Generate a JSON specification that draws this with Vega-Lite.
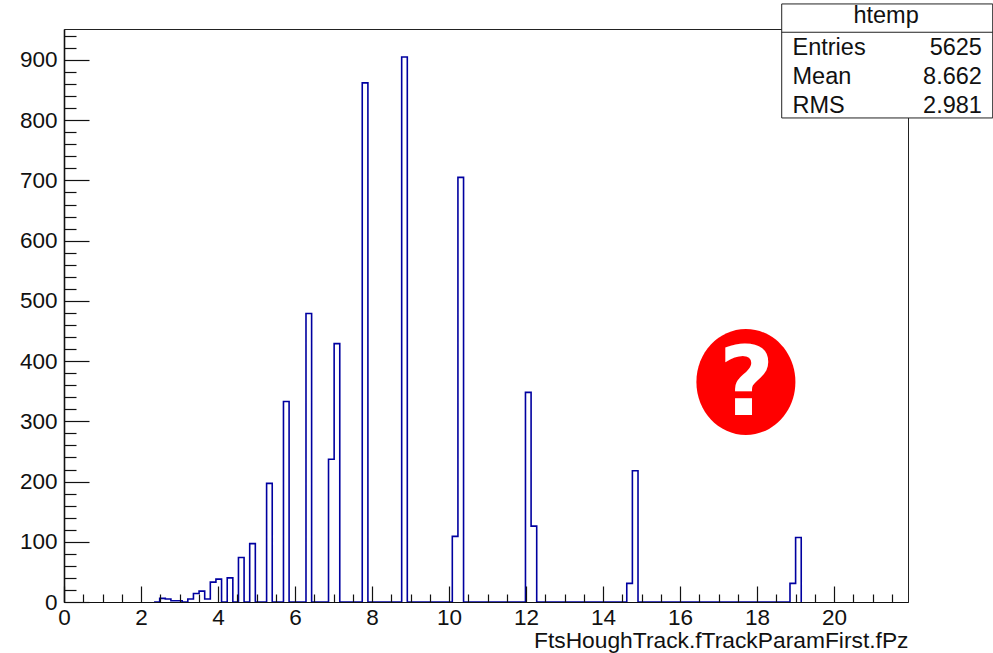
{
"$schema":"https://vega.github.io/schema/vega-lite/v6.json",
"width":844,"height":573,
"autosize":{"type":"none"},
"padding":{"left":64,"top":29,"right":85,"bottom":51},
"background":"white",
"config":{"view":{"stroke":"#222","strokeWidth":1},"font":"Liberation Sans"},
"layer":[
{"data":{"values":[
{"x":2.339,"n":0},{"x":2.485,"n":6},{"x":2.631,"n":5},{"x":2.777,"n":2},{"x":2.923,"n":2},{"x":3.069,"n":0},{"x":3.216,"n":5},{"x":3.362,"n":14},{"x":3.508,"n":18},{"x":3.654,"n":5},{"x":3.8,"n":33},{"x":3.946,"n":38},{"x":4.092,"n":0},{"x":4.239,"n":40},{"x":4.385,"n":0},{"x":4.531,"n":74},{"x":4.677,"n":0},{"x":4.823,"n":97},{"x":4.969,"n":0},{"x":5.262,"n":197},{"x":5.408,"n":0},{"x":5.7,"n":333},{"x":5.846,"n":0},{"x":6.285,"n":479},{"x":6.431,"n":0},{"x":6.87,"n":237},{"x":7.016,"n":429},{"x":7.162,"n":0},{"x":7.746,"n":862},{"x":7.893,"n":0},{"x":8.77,"n":905},{"x":8.916,"n":0},{"x":10.085,"n":109},{"x":10.231,"n":705},{"x":10.377,"n":0},{"x":11.985,"n":348},{"x":12.131,"n":126},{"x":12.277,"n":0},{"x":14.616,"n":31},{"x":14.762,"n":218},{"x":14.908,"n":0},{"x":18.855,"n":31},{"x":19.001,"n":107},{"x":19.147,"n":0}
]},
"mark":{"type":"line","interpolate":"step-after","color":"#0000a0","strokeWidth":1.6},
"encoding":{
"x":{"field":"x","type":"quantitative","scale":{"domain":[0,21.92],"nice":false,"zero":false},
"axis":{"tickCount":200,"values":[0,0.5,1,1.5,2,2.5,3,3.5,4,4.5,5,5.5,6,6.5,7,7.5,8,8.5,9,9.5,10,10.5,11,11.5,12,12.5,13,13.5,14,14.5,15,15.5,16,16.5,17,17.5,18,18.5,19,19.5,20,20.5,21,21.5],
"labelExpr":"datum.value % 2 === 0 ? format(datum.value, 'd') : ''","labelOverlap":false,"labelFontSize":22.5,"labelColor":"#111","labelPadding":20,"labelFlush":false,
"tickSize":{"condition":{"test":"datum.value % 2 === 0","value":-16},"value":-8},"tickColor":"#111","tickWidth":1.2,
"domainColor":"#111","domainWidth":1.2,"grid":false,"zindex":1,
"title":"FtsHoughTrack.fTrackParamFirst.fPz","titleFontSize":22.8,"titleFontWeight":"normal","titleColor":"#111","titleAnchor":"end","titleAlign":"right","titleBaseline":"alphabetic","titlePadding":11}},
"y":{"field":"n","type":"quantitative","scale":{"domain":[0,951.4],"nice":false},
"axis":{"tickCount":200,"values":[0,20,40,60,80,100,120,140,160,180,200,220,240,260,280,300,320,340,360,380,400,420,440,460,480,500,520,540,560,580,600,620,640,660,680,700,720,740,760,780,800,820,840,860,880,900,920,940],
"labelExpr":"datum.value % 100 === 0 ? format(datum.value, 'd') : ''","labelOverlap":false,"labelFontSize":22.5,"labelColor":"#111","labelPadding":32,"labelFlush":false,
"tickSize":{"condition":{"test":"datum.value % 100 === 0","value":-25},"value":-12},"tickColor":"#111","tickWidth":1.2,
"domainColor":"#111","domainWidth":1.6,"grid":false,"zindex":1,"title":null}}
}},
{"mark":{"type":"rect","fill":"white","stroke":"#222","strokeWidth":1,"clip":false},
"data":{"values":[{"name":"htemp"}]},
"encoding":{"x":{"datum":18.64},"x2":{"datum":24.12},"y":{"datum":803.7},"y2":{"datum":993}}},
{"mark":{"type":"rule","stroke":"#222","strokeWidth":1},
"data":{"values":[{"name":"htemp"}]},
"encoding":{"x":{"datum":18.64},"x2":{"datum":24.12},"y":{"datum":946}}},
{"mark":{"type":"text","fontSize":23.5,"align":"center","baseline":"alphabetic","color":"#111"},
"data":{"values":[{"name":"htemp"}]},
"encoding":{"text":{"field":"name"},"x":{"datum":21.35},"y":{"datum":961.5}}},
{"mark":{"type":"text","fontSize":23.5,"align":"left","baseline":"alphabetic","color":"#111"},
"data":{"values":[{"name":"Entries"}]},
"encoding":{"text":{"field":"name"},"x":{"datum":18.92},"y":{"datum":908.3}}},
{"mark":{"type":"text","fontSize":23.5,"align":"left","baseline":"alphabetic","color":"#111"},
"data":{"values":[{"name":"Mean"}]},
"encoding":{"text":{"field":"name"},"x":{"datum":18.92},"y":{"datum":860}}},
{"mark":{"type":"text","fontSize":23.5,"align":"left","baseline":"alphabetic","color":"#111"},
"data":{"values":[{"name":"RMS"}]},
"encoding":{"text":{"field":"name"},"x":{"datum":18.92},"y":{"datum":812}}},
{"mark":{"type":"text","fontSize":23.5,"align":"right","baseline":"alphabetic","color":"#111"},
"data":{"values":[{"value":"5625"}]},
"encoding":{"text":{"field":"value"},"x":{"datum":23.84},"y":{"datum":908.3}}},
{"mark":{"type":"text","fontSize":23.5,"align":"right","baseline":"alphabetic","color":"#111"},
"data":{"values":[{"value":"8.662"}]},
"encoding":{"text":{"field":"value"},"x":{"datum":23.84},"y":{"datum":860}}},
{"mark":{"type":"text","fontSize":23.5,"align":"right","baseline":"alphabetic","color":"#111"},
"data":{"values":[{"value":"2.981"}]},
"encoding":{"text":{"field":"value"},"x":{"datum":23.84},"y":{"datum":812}}},
{"mark":{"type":"point","filled":true,"fill":"#ff0000","opacity":1,"stroke":null,"size":10000,"shape":"M -0.99 0 A 0.99 1.06 0 1 1 0.99 0 A 0.99 1.06 0 1 1 -0.99 0 Z"},
"data":{"values":[{"name":"unknown"}]},
"encoding":{"x":{"datum":17.71},"y":{"datum":365.3}}},
{"mark":{"type":"text","font":"DejaVu Sans","fontWeight":"bold","fontSize":96,"align":"center","baseline":"alphabetic","color":"white"},
"data":{"values":[{"name":"?"}]},
"encoding":{"text":{"field":"name"},"x":{"datum":17.73},"y":{"datum":310.5}}}
]
}
